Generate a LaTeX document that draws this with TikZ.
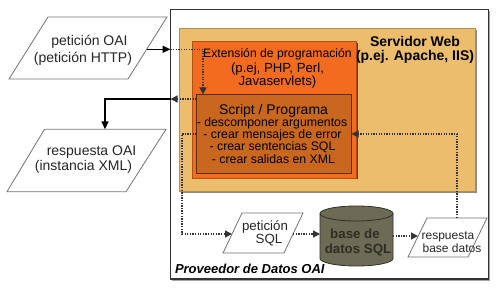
\documentclass[tikz,border=0pt]{standalone}
\usepackage{fontspec}
\setmainfont{Liberation Sans}
\usetikzlibrary{arrows.meta,calc}
\definecolor{tanc}{HTML}{EDBD6E}
\definecolor{orng}{HTML}{F26B1F}
\definecolor{scr}{HTML}{C9671F}
\definecolor{dbc}{HTML}{6D6B56}
\definecolor{dbtext}{HTML}{2E2E22}
\definecolor{dline}{HTML}{333333}
\tikzset{
  solidarrow/.style={line width=1.4pt, draw=black, -{Triangle[length=8pt,width=7pt]}},
  dotline/.style={line width=1.3pt, draw=dline, dash pattern=on 1.3pt off 1.3pt},
  dotarrow/.style={dotline, -{Triangle[length=7pt,width=7pt]}},
  para/.style={draw=black!55, line width=0.8pt, fill=white},
  txt/.style={inner sep=0pt, outer sep=0pt, anchor=base, text=black!85},
  boxtxt/.style={txt, text=black},
  boxnode/.style={inner sep=0pt, outer sep=0pt, anchor=north west},
  f14/.style={font=\fontsize{14}{14}\selectfont},
}
\begin{document}
\begin{tikzpicture}[x=1pt,y=-1pt]
\useasboundingbox (0,0) rectangle (500,296);
% outer provider box
\fill[black!35] (172,11) rectangle (490,281);
\node[boxnode, draw=dline, line width=1.3pt, fill=white, minimum width=318pt, minimum height=269.5pt] (prov) at (170.5,9.5) {};
% web server box
\fill[black!45] (180.5,30) rectangle (476.5,193);
\node[boxnode, draw=tanc!75!black, line width=0.6pt, fill=tanc, minimum width=296pt, minimum height=163pt] (web) at (179,28.5) {};
% extension box
\fill[orng!45!black] (193.5,43) rectangle (357.5,179.5);
\node[boxnode, draw=orng!75!black, line width=0.6pt, fill=orng, minimum width=164pt, minimum height=136.5pt] (extbox) at (192,41.5) {};
% script box
\node[boxnode, draw=scr!45!black, line width=1pt, fill=scr, minimum width=155pt, minimum height=79.5pt] (script) at (196.5,94.5) {};

% texts in boxes
\node[boxtxt, font=\bfseries\fontsize{14}{14}\selectfont] (webt1) at (415,47) {Servidor Web};
\node[boxtxt, font=\bfseries\fontsize{14}{14}\selectfont] (webt2) at (415,60.7) {(p.ej. Apache, IIS)};
\node[boxtxt, font=\fontsize{12.2}{12}\selectfont] (ext1) at (277.5,58) {Extensión de programación};
\node[boxtxt, font=\fontsize{13.2}{13}\selectfont] (ext2) at (277.5,72.5) {(p.ej, PHP, Perl,};
\node[boxtxt, font=\fontsize{13.2}{13}\selectfont] (ext3) at (277.5,85.5) {Javaservlets)};
\node[boxtxt, font=\fontsize{14}{14}\selectfont] (scrt) at (273.5,115) {Script / Programa};
\node[boxtxt, font=\fontsize{12.3}{12}\selectfont] (scri1) at (272,126.3) {- descomponer argumentos};
\node[boxtxt, font=\fontsize{12.3}{12}\selectfont] (scri2) at (272.5,138.3) {- crear mensajes de error};
\node[boxtxt, font=\fontsize{12.3}{12}\selectfont] (scri3) at (272.5,150.3) {- crear sentencias SQL};
\node[boxtxt, font=\fontsize{12.3}{12}\selectfont] (scri4) at (273.5,163.3) {- crear salidas en XML};
\node[boxtxt, anchor=base west, font=\bfseries\itshape\fontsize{13}{13}\selectfont] (provt) at (175,273) {Proveedor de Datos OAI};

% parallelograms
\draw[para] (48,17) -- (167,17) -- (128,79) -- (9,79) -- cycle;
\node[txt, f14] (oai1) at (89.5,45.7) {petición OAI};
\node[txt, f14] (oai2) at (83,62.7) {(petición HTTP)};
\draw[para] (44.5,129.3) -- (166,129.3) -- (126,191.7) -- (7,191.7) -- cycle;
\node[txt, f14] (resp1) at (91.5,155.7) {respuesta OAI};
\node[txt, f14] (resp2) at (83.5,170.7) {(instancia XML)};
\draw[para] (242,213) -- (303,213) -- (284,253) -- (223,253) -- cycle;
\node[txt, font=\fontsize{13.3}{13}\selectfont] (sql1) at (265,230.7) {petición};
\node[txt, font=\fontsize{13.3}{13}\selectfont] (sql2) at (269,243.5) {SQL};
\draw[para] (427,218) -- (487,218) -- (468,257) -- (408,257) -- cycle;
\node[txt, font=\fontsize{12}{12}\selectfont] (rbd1) at (448,240) {respuesta};
\node[txt, font=\fontsize{12}{12}\selectfont] (rbd2) at (452,252) {base datos};

% database cylinder
\node[inner sep=0pt, outer sep=0pt, minimum width=73pt, minimum height=60pt] (db) at (356.5,236) {};
\draw[fill=dbc, draw=dbc!45!black, line width=0.8pt] (320,213.5) -- (320,258.5)
  arc[start angle=180, end angle=0, x radius=36.5, y radius=7.5] -- (393,213.5)
  arc[start angle=0, end angle=-180, x radius=36.5, y radius=7.5] -- cycle;
\draw[draw=dbc!45!black, line width=0.8pt] (320,213.5) arc[start angle=180, end angle=0, x radius=36.5, y radius=7.5];
\node[txt, text=dbtext, font=\bfseries\fontsize{13.3}{13}\selectfont] (dbt1) at (355,238.3) {base de};
\node[txt, text=dbtext, font=\bfseries\fontsize{13.3}{13}\selectfont] (dbt2) at (358,253) {datos SQL};

% port coordinates
\coordinate (oaiR) at (146.7,49.3);
\coordinate (scrIn) at ($(script.north west)+(6.5,0)$);
\coordinate (scrOut) at ($(script.north west)+(0,4.5)$);
\coordinate (respTop) at (105,129.3);
\coordinate (scrL2) at ($(script.north west)+(0,39.5)$);
\coordinate (scrR2) at ($(script.north east)+(0,39.5)$);
\coordinate (sqlL) at (232,234);
\coordinate (sqlR) at (293,234);
\coordinate (rbdL) at (418,236);
\coordinate (rbdT) at (457,218);

% connectors
\draw[solidarrow] (oaiR) -- (oaiR -| prov.west);
\draw[dotarrow] (oaiR -| prov.west) -| (scrIn);
\draw[dotarrow] (scrOut) -- (scrOut -| prov.west);
\draw[solidarrow] (scrOut -| prov.west) -| (respTop);
\draw[dotarrow] (scrL2) -- ++(-14.5,0) |- (sqlL);
\draw[dotarrow] (sqlR) -- (db.west |- sqlR);
\draw[dotarrow] (db.east |- rbdL) -- (rbdL);
\draw[dotarrow] (rbdT) |- (scrR2);
\end{tikzpicture}
\end{document}
